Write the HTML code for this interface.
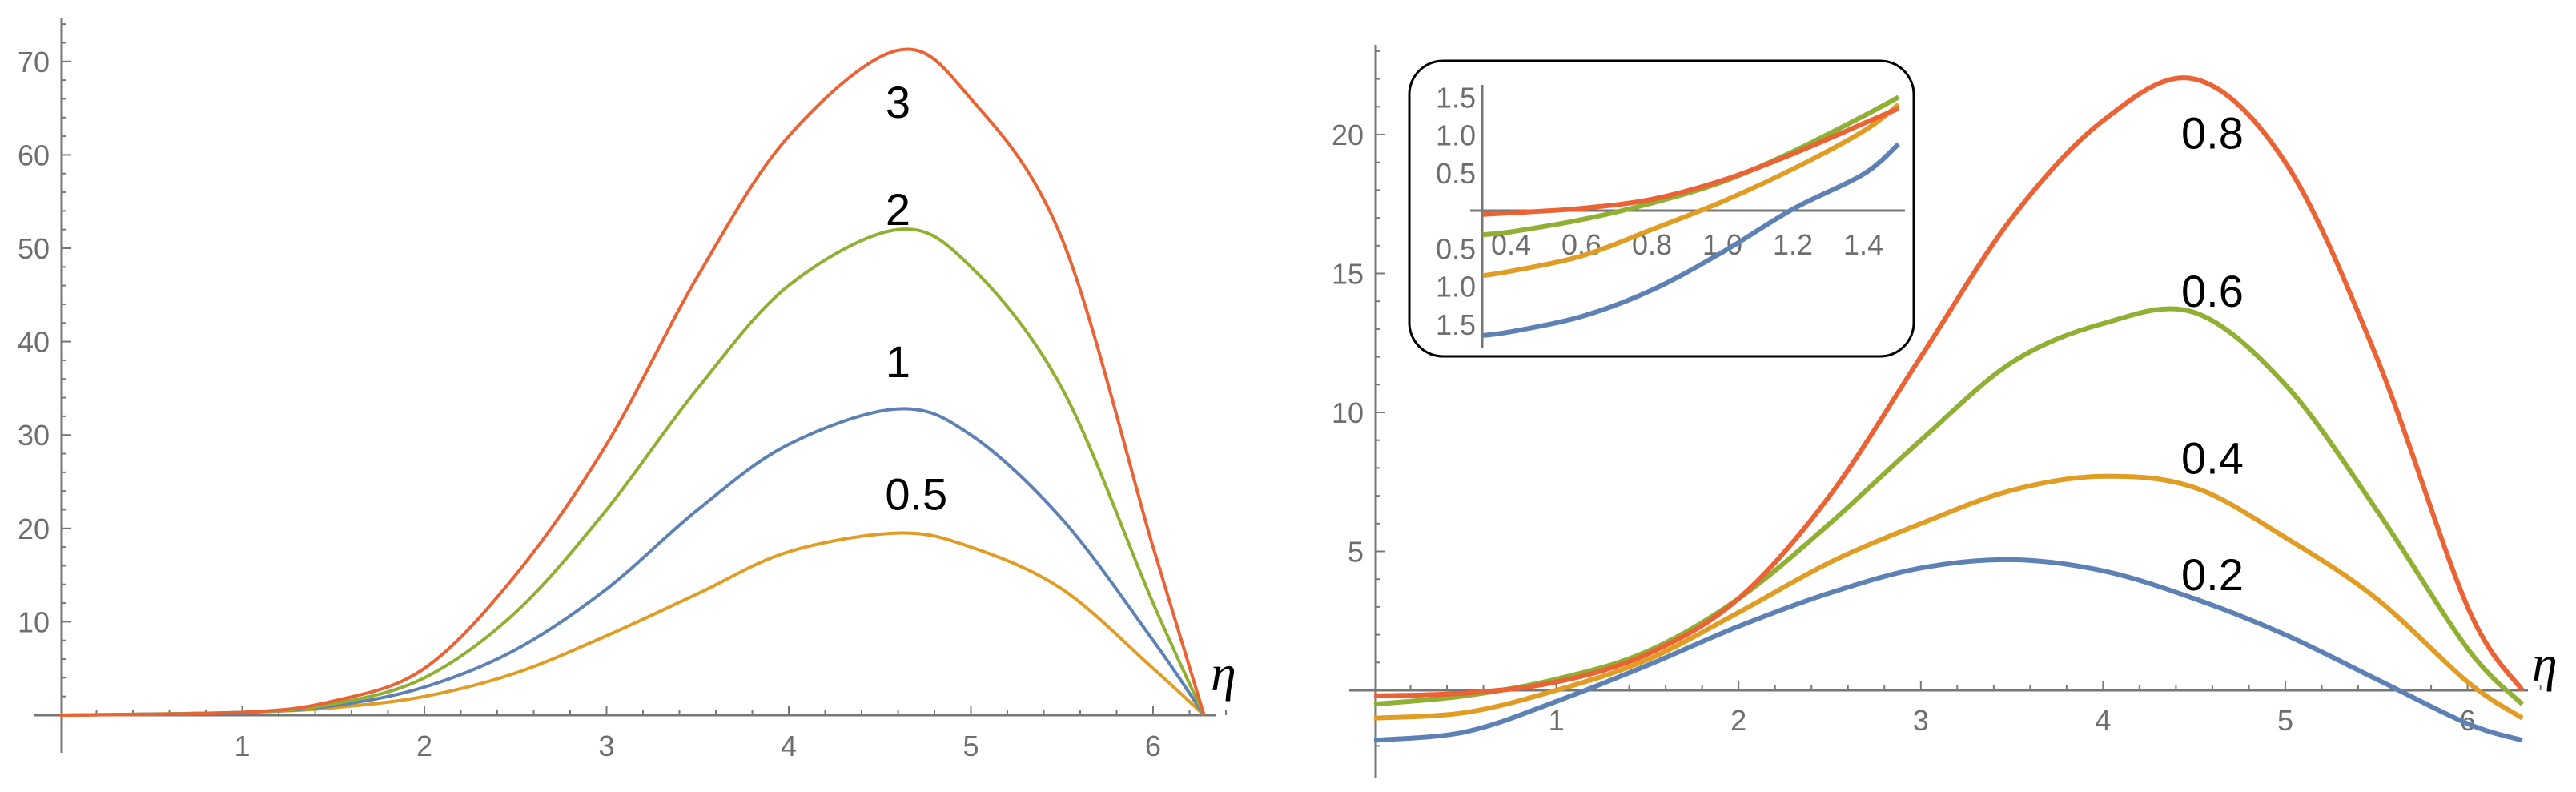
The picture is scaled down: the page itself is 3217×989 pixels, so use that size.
<!DOCTYPE html>
<html><head><meta charset="utf-8"><style>
html,body{margin:0;padding:0;background:#fff;}
svg{display:block;}
.tk{fill:#6e6e6e;font-family:"Liberation Sans",sans-serif;font-size:36px;}
.lb{fill:#000;font-family:"Liberation Sans",sans-serif;font-size:56px;}
.eta{fill:#000;font-family:"Liberation Serif",serif;font-style:italic;font-size:64px;}
</style></head><body>
<svg id="chart" width="3217" height="989" viewBox="0 0 3217 989" xmlns="http://www.w3.org/2000/svg"></svg>
<script>
// ---- Left panel data ----
const leftX = [0, 1, 1.5, 2, 2.5, 3, 3.5, 4, 4.6, 5, 5.5, 6, 6.28];
const leftRed = [0, 0.3, 1.5, 5, 15, 29, 47, 62, 71.2, 66, 51, 18, 0];
const leftGreen = [0, 0.3, 1.2, 4, 11, 22, 35, 46, 52, 48, 35, 12, 0];
const leftBlue = [0, 0.3, 1, 3, 7, 13.5, 22, 29, 32.8, 30, 21, 8, 0];
const leftOrange = [0, 0.3, 0.8, 2, 4.5, 8.5, 13, 17.5, 19.5, 18, 13.5, 5, 0];
const leftXTicks = [1, 2, 3, 4, 5, 6];
const leftYTicks = [10, 20, 30, 40, 50, 60, 70];
const leftLabels = ["3", "2", "1", "0.5"];
const leftLabelPos = [[4.6, 64], [4.6, 52.5], [4.6, 36.2], [4.7, 22]];
// ---- Right panel data ----
const rightX = [0, 0.5, 1, 1.5, 2, 2.5, 3, 3.5, 4, 4.5, 5, 5.5, 6, 6.3];
const rightRed = [-0.2, -0.1, 0.3, 1.3, 3.3, 7, 12, 17, 20.5, 22, 19, 12, 3, 0];
const rightGreen = [-0.5, -0.2, 0.4, 1.4, 3.3, 6, 9, 11.8, 13.2, 13.6, 11, 6.5, 1.5, -0.5];
const rightOrange = [-1, -0.8, 0, 1.1, 2.8, 4.6, 6, 7.2, 7.7, 7.3, 5.5, 3.3, 0.3, -1];
const rightBlue = [-1.8, -1.5, -0.4, 0.9, 2.3, 3.5, 4.4, 4.7, 4.3, 3.3, 2, 0.4, -1.2, -1.8];
const rightXTicks = [1, 2, 3, 4, 5, 6];
const rightYTicks = [5, 10, 15, 20];
const rightLabels = ["0.8", "0.6", "0.4", "0.2"];
const rightLabelPos = [[4.6, 19.5], [4.6, 13.8], [4.6, 7.8], [4.6, 3.6]];
// ---- Inset data ----
const insetX = [0.32, 0.4, 0.6, 0.8, 1.0, 1.2, 1.4, 1.5];
const insetRed = [-0.05, -0.03, 0.03, 0.15, 0.4, 0.75, 1.15, 1.35];
const insetGreen = [-0.32, -0.28, -0.12, 0.1, 0.38, 0.78, 1.25, 1.5];
const insetOrange = [-0.86, -0.8, -0.6, -0.25, 0.12, 0.55, 1.05, 1.4];
const insetBlue = [-1.65, -1.6, -1.4, -1.05, -0.55, 0.02, 0.48, 0.88];
const insetXTicks = [0.4, 0.6, 0.8, 1.0, 1.2, 1.4];
const insetYTicks = [1.5, 1.0, 0.5, -0.5, -1.0, -1.5];

const C = {red:"#eb6235", green:"#8fb032", blue:"#5e81b5", orange:"#e19c24"};
const NS = "http://www.w3.org/2000/svg";
const svg = document.getElementById("chart");
function mk(tag, attrs, parent){const e=document.createElementNS(NS,tag);for(const k in attrs)e.setAttribute(k,attrs[k]);(parent||svg).appendChild(e);return e;}
function smooth(pts){let d="M"+pts[0][0].toFixed(1)+","+pts[0][1].toFixed(1);
 for(let i=0;i<pts.length-1;i++){const p0=pts[Math.max(0,i-1)],p1=pts[i],p2=pts[i+1],p3=pts[Math.min(pts.length-1,i+2)];
 d+=" C"+(p1[0]+(p2[0]-p0[0])/6).toFixed(1)+","+(p1[1]+(p2[1]-p0[1])/6).toFixed(1)+" "+(p2[0]-(p3[0]-p1[0])/6).toFixed(1)+","+(p2[1]-(p3[1]-p1[1])/6).toFixed(1)+" "+p2[0].toFixed(1)+","+p2[1].toFixed(1);}
 return d;}

// Left axes
const lx = v => 75 + v*227.5;
const ly = v => 893 - v*11.66;
const axL = mk("g",{});


mk("line",{x1:43,y1:893,x2:1518,y2:893,stroke:"#777","stroke-width":3},axL);
mk("line",{x1:77,y1:22,x2:77,y2:940,stroke:"#777","stroke-width":3},axL);
for(let v=0.2;v<6.45;v+=0.2){const big=Math.abs(v-Math.round(v))<0.01;mk("line",{x1:lx(v),y1:893,x2:lx(v),y2:893-(big?12:6),stroke:"#777","stroke-width":2},axL);}
for(let v=2;v<=74;v+=2){const big=v%10===0;mk("line",{x1:77,y1:ly(v),x2:77+(big?12:6),y2:ly(v),stroke:"#777","stroke-width":2},axL);}
leftXTicks.forEach(t=>{const e=mk("text",{x:lx(t),y:944,class:"tk","text-anchor":"middle"});e.textContent=t;
 
 });
leftYTicks.forEach(t=>{const e=mk("text",{x:62,y:ly(t)+13,class:"tk","text-anchor":"end"});e.textContent=t;
 
 });
[[leftOrange,C.orange,"left-series-0.5"],[leftBlue,C.blue,"left-series-1"],[leftGreen,C.green,"left-series-2"],[leftRed,C.red,"left-series-3"]].forEach(([arr,col,name])=>{
 const p=mk("path",{d:smooth(leftX.map((x,i)=>[lx(x),ly(arr[i])])),fill:"none",stroke:col,"stroke-width":4});
 
 });
leftLabels.forEach((s,i)=>{const e=mk("text",{x:lx(leftLabelPos[i][0]),y:ly(leftLabelPos[i][1]),class:"lb","text-anchor":"middle"});e.textContent=s;
 
 });
const e1=mk("text",{x:1512,y:862,class:"eta"});e1.textContent="η";



// Right axes
const rx = v => 1716 + v*227.6;
const ry = v => 862 - v*34.7;
const axR = mk("g",{});


mk("line",{x1:1685,y1:862,x2:3157,y2:862,stroke:"#777","stroke-width":3},axR);
mk("line",{x1:1718,y1:56,x2:1718,y2:971,stroke:"#777","stroke-width":3},axR);
for(let v=0.2;v<6.45;v+=0.2){const big=Math.abs(v-Math.round(v))<0.01;mk("line",{x1:rx(v),y1:862,x2:rx(v),y2:862-(big?12:6),stroke:"#777","stroke-width":2},axR);}
for(let v=-2;v<=23;v+=1){const big=v%5===0;mk("line",{x1:1718,y1:ry(v),x2:1718+(big?12:6),y2:ry(v),stroke:"#777","stroke-width":2},axR);}
rightXTicks.forEach(t=>{const e=mk("text",{x:rx(t),y:912,class:"tk","text-anchor":"middle"});e.textContent=t;
 
 });
rightYTicks.forEach(t=>{const e=mk("text",{x:1703,y:ry(t)+13,class:"tk","text-anchor":"end"});e.textContent=t;
 
 });
[[rightBlue,C.blue,"right-series-0.2"],[rightOrange,C.orange,"right-series-0.4"],[rightGreen,C.green,"right-series-0.6"],[rightRed,C.red,"right-series-0.8"]].forEach(([arr,col,name])=>{
 const p=mk("path",{d:smooth(rightX.map((x,i)=>[rx(x),ry(arr[i])])),fill:"none",stroke:col,"stroke-width":6});
 
 });
rightLabels.forEach((s,i)=>{const e=mk("text",{x:rx(rightLabelPos[i][0]),y:ry(rightLabelPos[i][1]),class:"lb","text-anchor":"middle"});e.textContent=s;
 
 });
const e2=mk("text",{x:3162,y:850,class:"eta"});e2.textContent="η";



// Inset
const ix = v => 1887 + (v-0.4)*440;
const iy = v => 263 - v*94.5;
const ins = mk("g",{});


mk("rect",{x:1760,y:76,width:630,height:369,rx:42,ry:42,fill:"#fff",stroke:"#000","stroke-width":3},ins);
mk("line",{x1:1836,y1:263,x2:2379,y2:263,stroke:"#777","stroke-width":3},ins);
mk("line",{x1:1851,y1:106,x2:1851,y2:435,stroke:"#777","stroke-width":3},ins);
insetXTicks.forEach(t=>{const e=mk("text",{x:ix(t),y:318,class:"tk","text-anchor":"middle"});e.textContent=t.toFixed(1);
 
 });
insetYTicks.forEach(t=>{const e=mk("text",{x:1843,y:iy(t)+13,class:"tk","text-anchor":"end"});e.textContent=Math.abs(t).toFixed(1);
 
 });
[[insetBlue,C.blue,"inset-series-0.2"],[insetOrange,C.orange,"inset-series-0.4"],[insetGreen,C.green,"inset-series-0.6"],[insetRed,C.red,"inset-series-0.8"]].forEach(([arr,col,name])=>{
 const p=mk("path",{d:smooth(insetX.map((x,i)=>[ix(x),iy(arr[i])])),fill:"none",stroke:col,"stroke-width":6});
 
 });
</script>
</body></html>
